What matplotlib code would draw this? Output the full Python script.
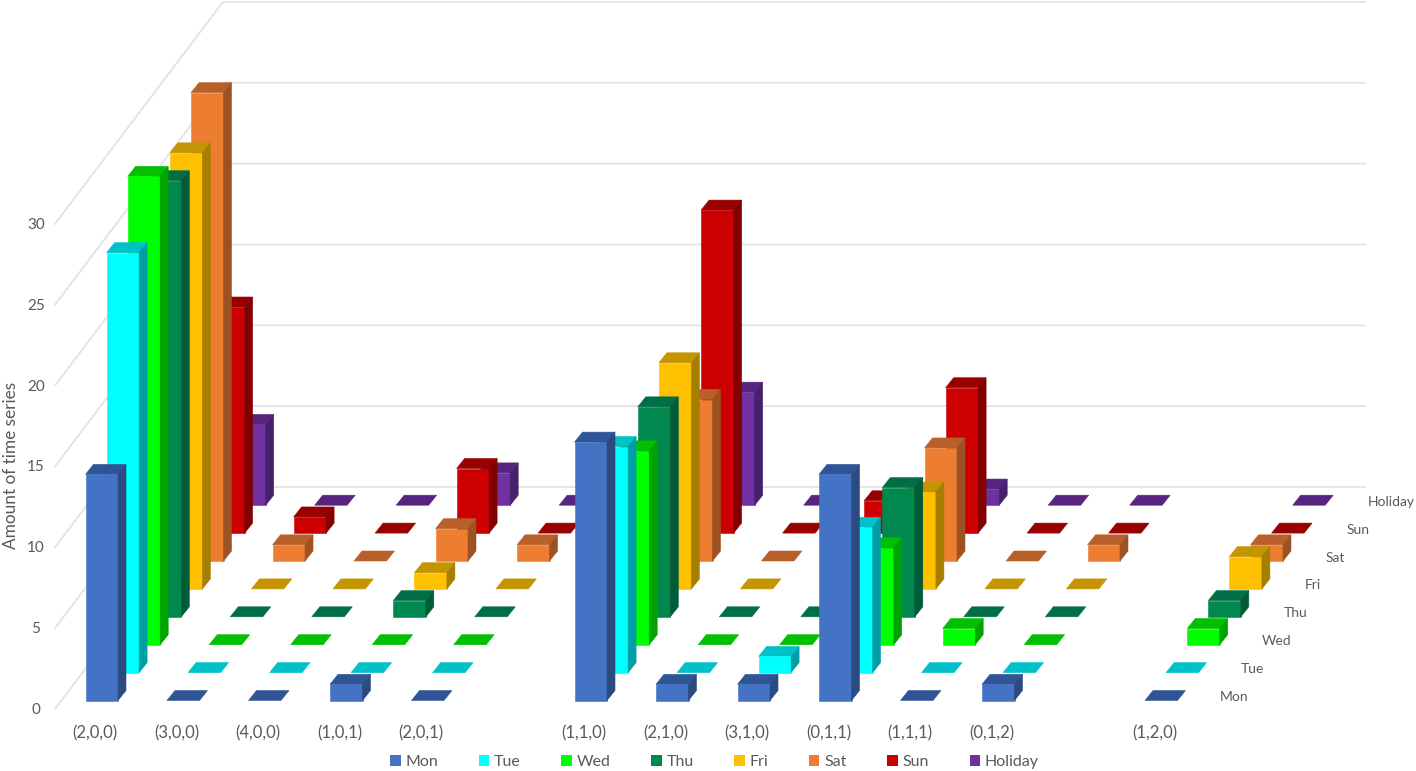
import matplotlib
matplotlib.use('Agg')
import matplotlib.pyplot as plt
from matplotlib.patches import Patch, Polygon
import numpy as np

plt.rcParams['font.family'] = ['Lato', 'DejaVu Sans']

categories = ['(2,0,0)', '(3,0,0)', '(4,0,0)', '(1,0,1)', '(2,0,1)', '',
              '(1,1,0)', '(2,1,0)', '(3,1,0)', '(0,1,1)', '(1,1,1)', '(0,1,2)', '',
              '(1,2,0)']
series_names = ['Mon', 'Tue', 'Wed', 'Thu', 'Fri', 'Sat', 'Sun', 'Holiday']

nan = float('nan')
mon = [14, 0, 0, 1, 0, nan, 16, 1, 1, 14, 0, 1, nan, 0]
tue = [26, 0, 0, 0, 0, nan, 14, 0, 1, 9, 0, 0, nan, 0]
wed = [29, 0, 0, 0, 0, nan, 12, 0, 0, 6, 1, 0, nan, 1]
thu = [27, 0, 0, 1, 0, nan, 13, 0, 0, 8, 0, 0, nan, 1]
fri = [27, 0, 0, 1, 0, nan, 14, 0, 0, 6, 0, 0, nan, 2]
sat = [29, 1, 0, 2, 1, nan, 10, 0, 0, 7, 0, 1, nan, 1]
sun = [14, 1, 0, 4, 0, nan, 20, 0, 2, 9, 0, 0, nan, 0]
holiday = [5, 0, 0, 2, 0, nan, 7, 0, 0, 1, 0, 0, nan, 0]
values = [mon, tue, wed, thu, fri, sat, sun, holiday]

y_ticks = [0, 5, 10, 15, 20, 25, 30]

# front, top, side
colors = [('#4472c4', '#2f5597', '#2b4a80'),
          ('#00ffff', '#00c0c8', '#009ea6'),
          ('#00ff00', '#00c000', '#00a400'),
          ('#00884f', '#006f45', '#005c38'),
          ('#ffc000', '#c49500', '#a67f00'),
          ('#ed7d31', '#b9602a', '#9c5222'),
          ('#cc0000', '#990000', '#820000'),
          ('#7030a0', '#57257f', '#47206b')]

TEXT = '#595959'
GRID = '#e3e3e3'

# oblique projection, in picture pixels
X0, Y0 = 85.5, 700.5
CAT_STEP = 81.5
DEPTH_X, DEPTH_Y = 21.1, 27.9
UNIT = 16.15
BAR_W, BAR_DX, BAR_DY = 32.5, 8, 10


def draw_bar(ax, cat, ser, val):
    x = X0 + CAT_STEP * cat + DEPTH_X * ser
    y = Y0 - DEPTH_Y * ser
    top = y - val * UNIT
    front, roof, side = colors[ser]
    kw = dict(linewidth=0.4, zorder=3 + (7 - ser) * 0.1 + 0.1)
    ax.add_patch(Polygon([(x, top), (x + BAR_W, top),
                          (x + BAR_W + BAR_DX, top - BAR_DY), (x + BAR_DX, top - BAR_DY)],
                         facecolor=roof, edgecolor=roof, **kw))
    if val > 0:
        ax.add_patch(Polygon([(x, y), (x + BAR_W, y), (x + BAR_W, top), (x, top)],
                             facecolor=front, edgecolor=front, **kw))
        ax.add_patch(Polygon([(x + BAR_W, y), (x + BAR_W + BAR_DX, y - BAR_DY),
                              (x + BAR_W + BAR_DX, top - BAR_DY), (x + BAR_W, top)],
                             facecolor=side, edgecolor=side, **kw))


def plot_chart():
    fig = plt.figure(figsize=(14.16, 7.71), dpi=100)
    ax = fig.add_axes([0, 0, 1, 1])
    ax.set_xlim(0, 1416)
    ax.set_ylim(771, 0)
    ax.axis('off')

    # walls
    for t in y_ticks:
        y_back = 487 - t * 16.17
        y_front = 709 - t * 16.17
        ax.plot([55, 223, 1365], [y_front, y_back, y_back], c=GRID, lw=1.3, zorder=1)
        ax.text(36, y_front + 1, str(t), ha='center', va='center', fontsize=11, color=TEXT)

    for ser in range(len(values) - 1, -1, -1):
        for cat, val in enumerate(values[ser]):
            if not np.isnan(val):
                draw_bar(ax, cat, ser, val)

    for cat, label in enumerate(categories):
        ax.text(95 + CAT_STEP * cat, 733, label, ha='center', va='center',
                fontsize=12, color=TEXT)

    for ser, name in enumerate(series_names):
        ax.text(1220 + 21.1 * ser, 697 - 27.9 * ser, name, ha='left', va='center',
                fontsize=10, color=TEXT)

    ax.text(11, 465, 'Amount of time series', rotation=90, ha='center', va='center',
            fontsize=12.4, color=TEXT)

    handles = [Patch(facecolor=colors[i][0], label=series_names[i]) for i in range(8)]
    fig.legend(handles=handles, loc='center', bbox_to_anchor=(714.5 / 1416, 1 - 762 / 771),
               ncol=8, frameon=False, fontsize=11.5, labelcolor=TEXT, handlelength=0.65,
               handleheight=0.65, handletextpad=0.3, columnspacing=2.55,
               borderpad=0, borderaxespad=0)

    fig.savefig('out.png', dpi=100)


if __name__ == '__main__':

    plot_chart()
